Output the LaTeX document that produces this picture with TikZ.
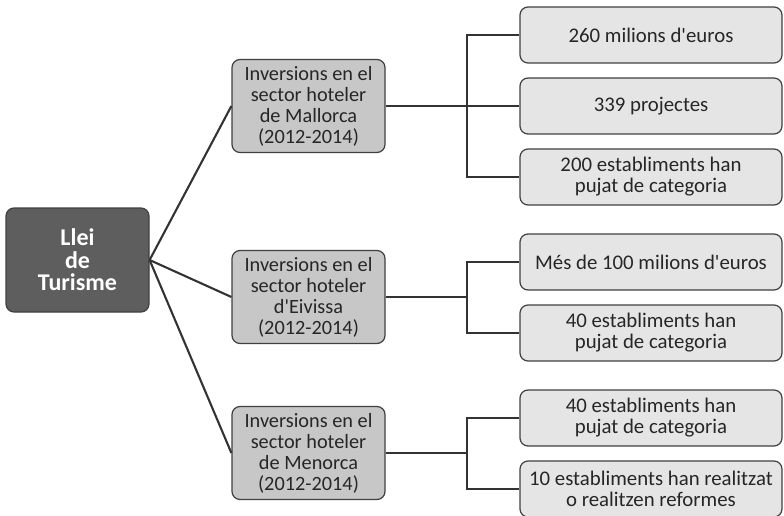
\documentclass[tikz,border=0pt]{standalone}
\usepackage{fontspec}
\setmainfont{Carlito}[Ligatures=TeXOff]
\begin{document}
\begin{tikzpicture}[x=1pt,y=-1pt,
  base/.style={draw=black!75, line width=1.2pt, rounded corners=8pt, align=center, inner sep=0pt, text=black!85},
  rootbox/.style={base, fill=black!63, text=white, font=\fontsize{24}{22.5}\selectfont\bfseries, minimum width=143pt, minimum height=104pt},
  midbox/.style={base, fill=black!22, font=\fontsize{20.3}{21}\selectfont, minimum width=153pt, minimum height=93pt},
  leafbox/.style={base, fill=black!10, font=\fontsize{20.8}{21}\selectfont, minimum width=262pt, minimum height=56pt},
  conn/.style={draw=black!80, line width=2.1pt}
]
\useasboundingbox (0,0) rectangle (784,516);
\node[rootbox] (root) at (77.5,260) {Llei\\de\\Turisme};
\node[midbox] (m1) at (308.5,106) {Inversions en el\\sector hoteler\\de Mallorca\\(2012-2014)};
\node[midbox] (m2) at (308.5,297) {Inversions en el\\sector hoteler\\d'Eivissa\\(2012-2014)};
\node[midbox] (m3) at (308.5,453) {Inversions en el\\sector hoteler\\de Menorca\\(2012-2014)};
\node[leafbox] (l1) at (651,35) {260 milions d'euros};
\node[leafbox] (l2) at (651,106) {339 projectes};
\node[leafbox] (l3) at (651,177) {200 establiments han\\pujat de categoria};
\node[leafbox] (l4) at (651,262) {Més de 100 milions d'euros};
\node[leafbox] (l5) at (651,333) {40 establiments han\\pujat de categoria};
\node[leafbox] (l6) at (651,418) {40 establiments han\\pujat de categoria};
\node[leafbox] (l7) at (651,489) {10 establiments han realitzat\\o realitzen reformes};
\draw[conn] (root.east) -- (m1.west);
\draw[conn] (root.east) -- (m2.west);
\draw[conn] (root.east) -- (m3.west);
\coordinate (b1) at (467,106);
\coordinate (b2) at (467,297);
\coordinate (b3) at (467,453);
\draw[conn] (m1.east) -- (b1);
\draw[conn] (l1.west) -| (b1) |- (l3.west);
\draw[conn] (b1) -- (l2.west);
\draw[conn] (m2.east) -- (b2);
\draw[conn] (l4.west) -| (b2) |- (l5.west);
\draw[conn] (m3.east) -- (b3);
\draw[conn] (l6.west) -| (b3) |- (l7.west);
\end{tikzpicture}
\end{document}
